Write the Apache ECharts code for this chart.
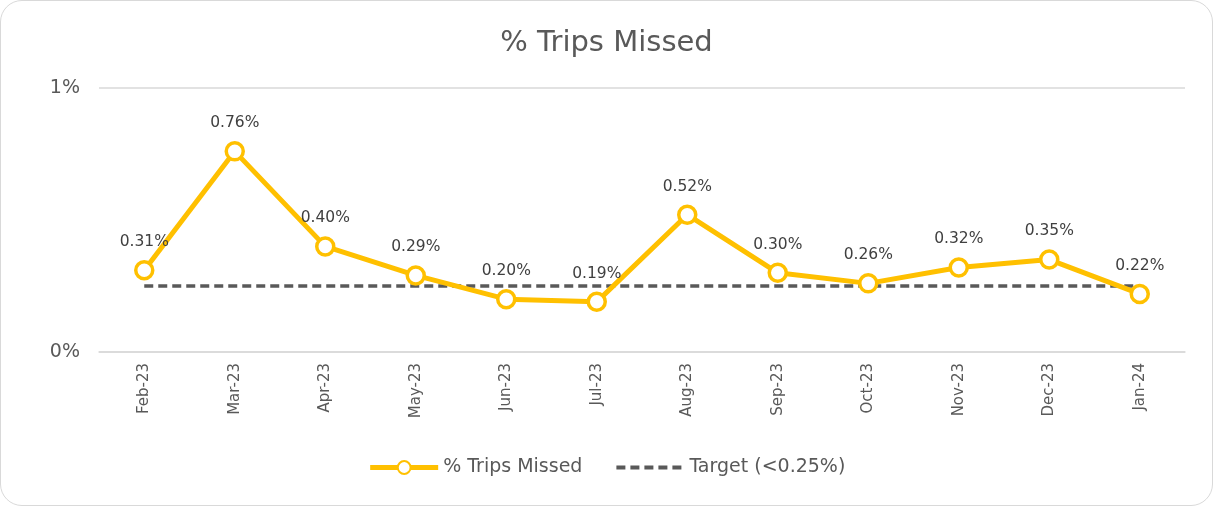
<!DOCTYPE html>
<html>
<head>
<meta charset="utf-8">
<script src="https://cdn.jsdelivr.net/npm/echarts@6/dist/echarts.min.js"></script>
<style>
  html, body { margin: 0; padding: 0; background: #fff; }
  #frame {
    width: 1213px; height: 506px; box-sizing: border-box;
    border: 1.5px solid #d9d9d9; border-radius: 22px; overflow: hidden;
  }
  #chart { width: 100%; height: 100%; }
</style>
</head>
<body>
<div id="frame"><div id="chart"></div></div>
<script>
const months = ["Feb-23", "Mar-23", "Apr-23", "May-23", "Jun-23", "Jul-23",
  "Aug-23", "Sep-23", "Oct-23", "Nov-23", "Dec-23", "Jan-24"];
const tripsMissed = [0.31, 0.76, 0.40, 0.29, 0.20, 0.19, 0.52, 0.30, 0.26, 0.32, 0.35, 0.22];
const target = [0.25, 0.25, 0.25, 0.25, 0.25, 0.25, 0.25, 0.25, 0.25, 0.25, 0.25, 0.25];
const yTicks = [0, 1];

const font = "DejaVu Sans";
const textColor = "#595959";

const chart = echarts.init(document.getElementById("chart"));

chart.setOption({
  animation: false,
  textStyle: { fontFamily: font },
  title: {
    text: "% Trips Missed",
    left: "center",
    top: 23,
    textStyle: { fontFamily: font, fontSize: 29, fontWeight: "normal", color: textColor },
  },
  legend: {
    bottom: 23,
    left: "center",
    itemWidth: 68,
    itemHeight: 16,
    itemGap: 32,
    textStyle: { fontFamily: font, fontSize: 19, color: textColor },
    data: [
      { name: "% Trips Missed", lineStyle: { width: 5 } },
      { name: "Target (<0.25%)", itemStyle: { opacity: 0 }, lineStyle: { width: 4 } },
    ],
  },
  grid: { left: 98, right: 27, top: 87, bottom: 153 },
  xAxis: {
    type: "category",
    data: months,
    boundaryGap: true,
    axisLine: { lineStyle: { color: "#d9d9d9", width: 1.5 } },
    axisTick: { show: false },
    axisLabel: { rotate: 90, margin: 11, fontSize: 15, color: textColor, fontFamily: font },
  },
  yAxis: {
    type: "value",
    min: yTicks[0],
    max: yTicks[yTicks.length - 1],
    interval: 1,
    axisLine: { show: false },
    axisTick: { show: false },
    splitLine: { lineStyle: { color: "#d9d9d9", width: 1.5 } },
    axisLabel: {
      margin: 19, fontSize: 19, color: textColor, fontFamily: font,
      formatter: (v) => v + "%",
    },
  },
  series: [
    {
      name: "% Trips Missed",
      type: "line",
      data: tripsMissed,
      z: 3,
      symbol: "circle",
      symbolSize: 17,
      lineStyle: { color: "#FFC000", width: 5 },
      itemStyle: { color: "#fff", borderColor: "#FFC000", borderWidth: 3.5 },
      label: {
        show: true,
        position: "top",
        distance: 10,
        fontSize: 15.5,
        color: "#404040",
        fontFamily: font,
        formatter: (p) => p.value.toFixed(2) + "%",
      },
    },
    {
      name: "Target (<0.25%)",
      type: "line",
      data: target,
      z: 2,
      symbol: "none",
      lineStyle: { color: "#595959", width: 3.5, type: [9, 5] },
      itemStyle: { color: "#595959" },
    },
  ],
});
</script>
</body>
</html>
